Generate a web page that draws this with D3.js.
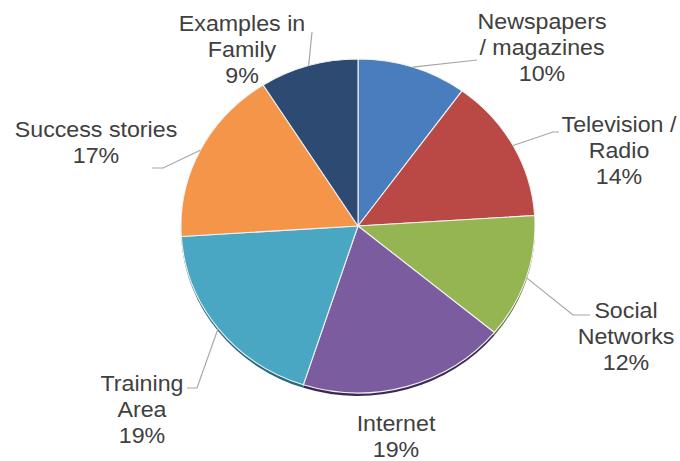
<!DOCTYPE html>
<html>
<head>
<meta charset="utf-8">
<script src="https://cdn.jsdelivr.net/npm/d3@7"></script>
<style>
  html, body { margin: 0; padding: 0; background: #ffffff; }
  svg { display: block; }
  text { font-family: "Liberation Sans", Arial, sans-serif; fill: #404040; }
</style>
</head>
<body>
<svg id="chart" width="680" height="461"></svg>
<script>
// Sources of information, share of respondents (%)
const categories = [
  "Newspapers / magazines",
  "Television / Radio",
  "Social Networks",
  "Internet",
  "Training Area",
  "Success stories",
  "Examples in Family"
];
const values = [10, 14, 12, 19, 19, 17, 9];
const colors = ["#4a7dbd", "#ba4844", "#95b553", "#7b5d9f", "#49a7c3", "#f4954a", "#2d4a72"];
const sideColors = ["#2f527e", "#7a2c2a", "#5f7533", "#3c2a52", "#2a6a7d", "#a45e28", "#1b2e48"];

// Wrapped label lines for each category
const labelLines = [
  ["Newspapers", "/ magazines"],
  ["Television /", "Radio"],
  ["Social", "Networks"],
  ["Internet"],
  ["Training", "Area"],
  ["Success stories"],
  ["Examples in", "Family"]
];

// Layout
const cx = 358, cy = 226, rx = 177, ry = 167;
const lineGap = 26;
const fontSize = 21.5, stretch = 1.08;
// label block centre x / first baseline y, and leader-line elbow points
const labelPos = [
  { x: 542, y: 29 },
  { x: 619, y: 132 },
  { x: 626, y: 318 },
  { x: 396, y: 431 },
  { x: 142, y: 391 },
  { x: 96,  y: 137 },
  { x: 242, y: 31 }
];
const leaders = [
  [[477, 60]],
  [[553, 132], [559, 132]],
  [[573, 315], [590, 315]],
  null,
  [[197, 388], [187, 388]],
  [[163, 168], [152, 168]],
  [[312, 32]]
];

const svg = d3.select("#chart");

const pieData = d3.pie().sort(null).value(d => d)(values);
const arc = d3.arc().innerRadius(0).outerRadius(rx);

// Thin side wall under the disc
const sideLayer = svg.append("g")
  .attr("transform", `translate(${cx},${cy + 3}) scale(1,${ry / rx})`);
sideLayer.selectAll("path")
  .data(pieData)
  .join("path")
  .attr("d", arc)
  .attr("fill", (d, i) => sideColors[i]);

// Top face of the pie
const faceLayer = svg.append("g")
  .attr("transform", `translate(${cx},${cy}) scale(1,${ry / rx})`);
faceLayer.selectAll("path")
  .data(pieData)
  .join("path")
  .attr("d", arc)
  .attr("fill", (d, i) => colors[i])
  .attr("stroke", "#f2f2f2")
  .attr("stroke-width", 1.1)
  .attr("vector-effect", "non-scaling-stroke")
  .attr("stroke-linejoin", "round");

// Point on the disc rim at a slice's mid angle
function rimPoint(d) {
  const a = (d.startAngle + d.endAngle) / 2;
  return [cx + rx * Math.sin(a), cy - ry * Math.cos(a)];
}

// Leader lines
const line = d3.line();
svg.append("g")
  .selectAll("path")
  .data(pieData.filter((d, i) => leaders[i]))
  .join("path")
  .attr("d", d => line([rimPoint(d), ...leaders[d.index]]))
  .attr("fill", "none")
  .attr("stroke", "#a6a6a6")
  .attr("stroke-width", 1.2);

// Category and percentage labels
const labels = svg.append("g")
  .selectAll("g")
  .data(pieData)
  .join("g")
  .attr("transform", (d, i) => `translate(${labelPos[i].x},${labelPos[i].y}) scale(${stretch},1)`);

labels.each(function (d, i) {
  const g = d3.select(this);
  const rows = labelLines[i].concat([values[i] + "%"]);
  g.selectAll("text")
    .data(rows)
    .join("text")
    .attr("x", 0)
    .attr("y", (r, k) => k * lineGap)
    .attr("text-anchor", "middle")
    .attr("font-size", fontSize)
    .text(r => r);
});
</script>
</body>
</html>
